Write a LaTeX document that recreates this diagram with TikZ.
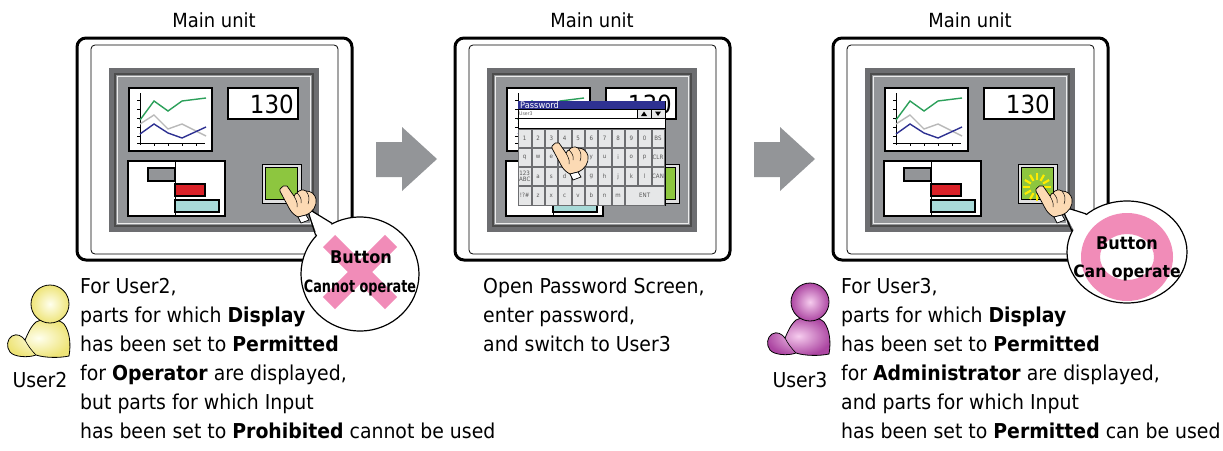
\documentclass[tikz,border=0pt]{standalone}
\usepackage{fontspec}
\setmainfont{DejaVu Sans}[FakeStretch=0.92]
\usetikzlibrary{shapes.geometric,calc}

\definecolor{bezelgray}{RGB}{109,110,113}
\definecolor{screengray}{RGB}{147,149,152}
\definecolor{plotgreen}{RGB}{44,160,90}
\definecolor{plotgray}{RGB}{185,185,185}
\definecolor{plotblue}{RGB}{46,49,146}
\definecolor{barred}{RGB}{218,33,40}
\definecolor{barcyan}{RGB}{168,218,216}
\definecolor{btngreen}{RGB}{141,198,63}
\definecolor{skin}{RGB}{252,218,180}
\definecolor{markpink}{RGB}{241,140,184}
\definecolor{titleblue}{RGB}{46,49,146}
\definecolor{keyface}{RGB}{230,231,232}
\definecolor{rayyellow}{RGB}{255,236,0}
\definecolor{usrAin}{RGB}{255,255,238}
\definecolor{usrAout}{RGB}{238,228,120}
\definecolor{usrBin}{RGB}{246,204,238}
\definecolor{usrBout}{RGB}{172,70,162}

\tikzset{
  % one operator panel, drawn at the position of the first one
  unit/.pic={
    \draw[line width=3pt, rounded corners=9pt, fill=white] (77,38) rectangle (352,260);
    \draw[line width=0.8pt, rounded corners=4pt] (91,45) rectangle (338,254);
    \fill[bezelgray] (109,68) rectangle (319,232);
    \draw[fill=screengray, draw=black!70, line width=1.5pt] (115,74) rectangle (313,226);
    \draw[white!85!gray, line width=0.8pt] (117.5,76.5) rectangle (310.5,223.5);
    % trend graph
    \draw[fill=white, line width=1.8pt] (129,88) rectangle (212,151);
    \draw[line width=0.7pt] (140,93) -- (140,145) (137,143) -- (205,143);
    \foreach \t in {100,109,118,127,136} \draw[line width=0.6pt] (137,\t) -- (140,\t);
    \foreach \t in {154,168,182,196} \draw[line width=0.6pt] (\t,143) -- (\t,146);
    \draw[plotgreen, line width=1.4pt] (140,120) -- (154,101) -- (168,111) -- (182,101) -- (206,98);
    \draw[plotgray, line width=1.4pt] (140,124) -- (154,115) -- (168,129) -- (182,124) -- (206,136);
    \draw[plotblue, line width=1.4pt] (140,134) -- (154,124) -- (168,133) -- (182,138) -- (206,127);
    % numeric display
    \draw[fill=white, line width=1.8pt] (228,88) rectangle (298,119);
    \node[anchor=east, font=\fontsize{25}{25}\selectfont] (-num) at (294,104) {130};
    % bar graph
    \draw[fill=white, line width=1.8pt] (128,161) rectangle (225,216);
    \draw[line width=0.7pt] (175,161) -- (175,216);
    \draw[fill=screengray, line width=1.2pt] (148,168) rectangle (175,181);
    \draw[fill=barred, line width=1.2pt] (175,184) rectangle (205,196);
    \draw[fill=barcyan, line width=1.2pt] (175,200) rectangle (219,212);
    % button
    \draw[fill=black!12, line width=0.7pt] (262,164) rectangle (301,203);
    \draw[fill=btngreen, line width=0.7pt] (265.5,167.5) rectangle (297.5,199.5);
  },
  % pointing hand, finger tip at the origin
  hand/.pic={
    \draw[fill=skin, line width=0.7pt, line join=round]
      (0,0) .. controls (-2,1) and (-1,5) .. (1,7)
      -- (8,20)
      .. controls (10,24) and (13,27) .. (17,29)
      -- (25,27)
      .. controls (32,24) and (36,18) .. (35,11)
      .. controls (34,6) and (30,3) .. (25,3)
      .. controls (22,1) and (18,2) .. (16,5)
      .. controls (15,5) and (14,6) .. (13,8)
      -- (6,-2)
      .. controls (4,-3) and (1,-2) .. (0,0) -- cycle;
    \draw[line width=0.5pt] (16,5) .. controls (19,8) and (21,11) .. (20,15)
      (25,3) .. controls (28,7) and (29,11) .. (27,16)
      (13,8) .. controls (15,12) and (17,15) .. (16,19);
    \draw[fill=white, line width=0.7pt] (17,29) -- (20,35) -- (28,32) -- (25,27) -- cycle;
  },
  % sitting user
  pics/user/.style={code={
    \draw[#1, line width=0.8pt]
      (36,322) .. controls (44,318) and (58,318) .. (64,324)
      .. controls (70,332) and (71,345) .. (69,356)
      .. controls (60,358) and (45,358) .. (36,355)
      .. controls (28,358) and (14,357) .. (10,352)
      .. controls (6,347) and (7,339) .. (12,336)
      .. controls (17,333) and (22,336) .. (25,340)
      .. controls (27,336) and (30,327) .. (36,322) -- cycle;
    \draw[line width=0.6pt] (25,340) .. controls (28,346) and (32,351) .. (36,355);
    \draw[#1, line width=0.8pt] (50,304) circle[radius=19pt];
  }},
}

\begin{document}
\begin{tikzpicture}[x=1pt,y=-1pt]
\tikzstyle{every node}=[inner sep=0pt]
\tikzstyle{body}=[anchor=base west, font=\fontsize{20.5}{29}\selectfont]
\tikzstyle{caption}=[anchor=base, font=\fontsize{19.5}{24}\selectfont]
\tikzstyle{key}=[draw=bezelgray, fill=keyface, minimum width=12.3pt, minimum height=18.2pt,
  font=\fontsize{6}{6.5}\selectfont, text=black!65, align=center]
\tikzstyle{bubble}=[ellipse, draw, line width=1.2pt, fill=white]
\tikzstyle{blockarrow}=[fill=screengray]
\tikzstyle{ray}=[rayyellow, line width=2.2pt]
\tikzstyle{skinA}=[inner color=usrAin, outer color=usrAout]
\tikzstyle{skinB}=[inner color=usrBin, outer color=usrBout]

\useasboundingbox (0,0) rectangle (1223,450);

% three panels
\pic (u1) at (0,0) {unit};
\pic (u2) at (378,0) {unit};
\pic (u3) at (756,0) {unit};
\foreach \x/\n in {214/1,592/2,970/3}
  \node[caption] (cap\n) at (\x,27) {Main unit};

% step arrows
\foreach \x in {0,378}
  \fill[blockarrow] (376+\x,142) -- (402+\x,142) -- (402+\x,127) -- (437+\x,159)
    -- (402+\x,191) -- (402+\x,177) -- (376+\x,177) -- cycle;

% password keyboard
\draw[fill=bezelgray, line width=0.8pt] (518,101) rectangle (665,205);
\fill[titleblue] (518,101) rectangle (665,109.5);
\node[anchor=west, text=white, font=\fontsize{9}{9}\selectfont] (pw) at (520,105.5) {Password};
\draw[fill=white, line width=0.4pt] (518,109.5) rectangle (637,118);
\node[anchor=west, text=black!60, font=\fontsize{5}{5}\selectfont] (pwuser) at (519,113.8) {User3};
\draw[fill=keyface, line width=0.4pt] (637,109.5) rectangle (651,118) (651,109.5) rectangle (665,118);
\fill (644,111.5) -- (647,116) -- (641,116) -- cycle;
\fill (658,116) -- (661,111.5) -- (655,111.5) -- cycle;
\draw[fill=white, line width=0.4pt] (518,118) rectangle (665,128.3);
\foreach \row/\keys in {0/{1,2,3,4,5,6,7,8,9,0,BS},1/{q,w,e,r,t,y,u,i,o,p,CLR},
    2/{{123\\ABC},a,s,d,f,g,h,j,k,l,CAN},3/{!?\#,z,x,c,v,b,n,m}}
  \foreach \k [count=\c from 0] in \keys
    \node[key] (k\row-\c) at (524.7+13.33*\c, 138+19.2*\row) {\k};
\node[key, minimum width=39pt] (ent) at (524.7+13.33*9, 138+19.2*3) {ENT};

% pressed button
\foreach \a in {0,30,...,330}
  \draw[ray, shift={(1037,187)}] (\a:7) -- (\a:14);

% speech bubbles
\node[bubble, minimum width=118pt, minimum height=114pt] (b1) at (360,274) {};
\coordinate (t1) at (307,208);
\fill[white] (t1) -- ($(b1.119)!3pt!(b1.center)$) -- ($(b1.139)!3pt!(b1.center)$) -- cycle;
\draw[line width=1.2pt] (b1.119) -- (t1) -- (b1.139);
\draw[markpink, line width=17pt] (329,241) -- (391,303) (391,241) -- (329,303);
\node[anchor=base, font=\bfseries\fontsize{17.5}{20}\selectfont] (b1a) at (361,263) {Button};
\node[anchor=base, font=\bfseries\fontsize{17}{20}\selectfont] (b1b) at (360,292) {\scalebox{0.82}[1]{Cannot operate}};

\node[bubble, minimum width=120pt, minimum height=102pt] (b3) at (1127,252) {};
\coordinate (t3) at (1061,206);
\fill[white] (t3) -- ($(b3.137)!3pt!(b3.center)$) -- ($(b3.159)!3pt!(b3.center)$) -- cycle;
\draw[line width=1.2pt] (b3.137) -- (t3) -- (b3.159);
\fill[markpink, even odd rule] (1127,257) ellipse[x radius=46pt, y radius=44pt]
  (1127,257) ellipse[x radius=27pt, y radius=23pt];
\node[anchor=base, font=\bfseries\fontsize{17.5}{20}\selectfont] (b3a) at (1127,249) {Button};
\node[anchor=base, font=\bfseries\fontsize{17}{20}\selectfont] (b3b) at (1127,277) {Can operate};

% hands
\pic at (281,188) {hand};
\pic at (553,145) {hand};
\pic at (1037,188) {hand};

% descriptions
\foreach \l [count=\i] in {{For User2,},{parts for which \textbf{Display}},
    {has been set to \textbf{Permitted}},{for \textbf{Operator} are displayed,},
    {but parts for which Input},{has been set to \textbf{Prohibited} cannot be used}}
  \node[body] (txta\i) at (80,264+29*\i) {\l};
\foreach \l [count=\i] in {{Open Password Screen,},{enter password,},{and switch to User3}}
  \node[body] (txtb\i) at (483,264+29*\i) {\l};
\foreach \l [count=\i] in {{For User3,},{parts for which \textbf{Display}},
    {has been set to \textbf{Permitted}},{for \textbf{Administrator} are displayed,},
    {and parts for which Input},{has been set to \textbf{Permitted} can be used}}
  \node[body] (txtc\i) at (841,264+29*\i) {\l};

% users
\pic at (0,0) {user=skinA};
\pic at (760,-2) {user=skinB};
\node[body, anchor=base] (usr2) at (40,387) {User2};
\node[body, anchor=base] (usr3) at (800,387) {User3};
\end{tikzpicture}
\end{document}
